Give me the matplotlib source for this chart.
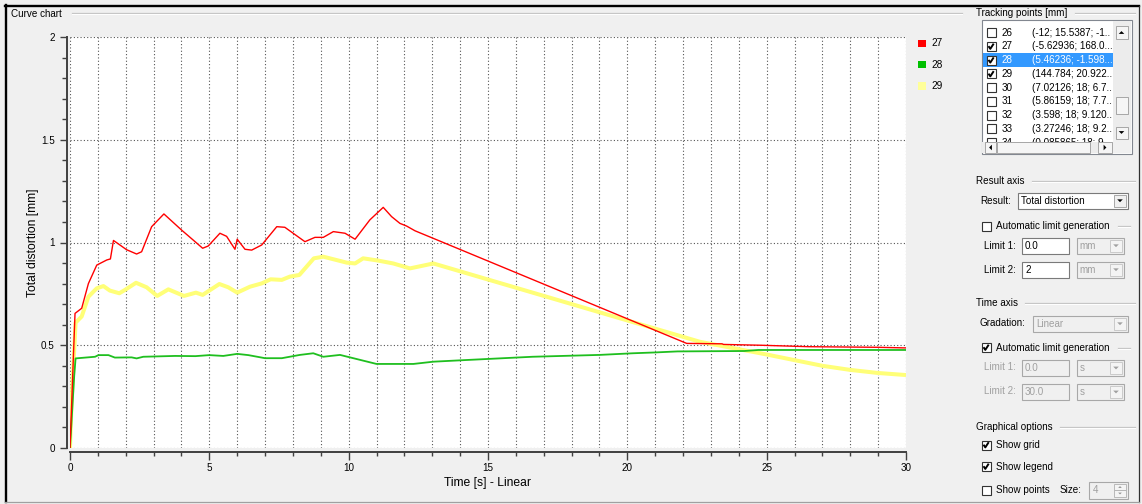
import matplotlib
matplotlib.use("Agg")
from matplotlib import pyplot as plt
from matplotlib.patches import Rectangle, Polygon
from matplotlib.ticker import MultipleLocator, FuncFormatter

plt.rcParams['font.family'] = ['Liberation Sans', 'DejaVu Sans']

W, H = 1142, 504

# --- curve data (time [s], total distortion [mm]) ---
t_27 = [0, 0.18, 0.42, 0.66, 0.96, 1.32, 1.45, 1.56, 2.03, 2.39, 2.57, 2.93, 3.37, 4.0,
        4.42, 4.76, 4.96, 5.38, 5.62, 5.92, 6.0, 6.28, 6.52, 6.88, 7.42, 7.71, 8.43,
        8.79, 9.09, 9.45, 9.87, 10.23, 10.76, 11.24, 11.54, 11.84, 12.08, 12.38, 13.04,
        22.13, 23.4, 23.45, 24.8, 26.5, 29.0, 30.0]
d_27 = [0, 0.655, 0.68, 0.80, 0.89, 0.915, 0.92, 1.01, 0.965, 0.944, 0.955, 1.077, 1.139, 1.061,
        1.012, 0.972, 0.983, 1.045, 1.03, 0.967, 1.016, 0.967, 0.963, 0.988, 1.077, 1.074, 1.004,
        1.025, 1.025, 1.053, 1.045, 1.016, 1.11, 1.171, 1.126, 1.093, 1.08, 1.057, 1.02,
        0.509, 0.507, 0.504, 0.50, 0.493, 0.49, 0.487]

t_28 = [0, 0.15, 0.2, 0.9, 1.02, 1.38, 1.61, 2.21, 2.39, 2.63, 3.77, 4.5, 5.0, 5.5, 6.0,
        6.4, 7.0, 7.6, 8.25, 8.73, 9.09, 9.69, 11.0, 12.32, 13.04, 14.2, 16.6, 19.0,
        20.2, 21.0, 21.8, 24.2, 24.7, 30.0]
d_28 = [0, 0.35, 0.436, 0.444, 0.452, 0.452, 0.44, 0.441, 0.436, 0.444, 0.448, 0.447, 0.452,
        0.448, 0.458, 0.452, 0.437, 0.437, 0.453, 0.461, 0.444, 0.453, 0.409, 0.409, 0.42,
        0.428, 0.444, 0.453, 0.461, 0.465, 0.47, 0.472, 0.477, 0.477]

t_29 = [0, 0.06, 0.2, 0.42, 0.66, 0.96, 1.2, 1.43, 1.77, 1.97, 2.37, 2.75, 3.13, 3.53, 4.09,
        4.52, 4.76, 5.36, 5.68, 6.0, 6.46, 6.88, 7.2, 7.6, 7.89, 8.23, 8.75, 9.09, 9.93,
        10.23, 10.52, 11.06, 11.6, 12.2, 13.04, 22.6, 25.0, 27.0, 28.0, 29.0, 30.0]
d_29 = [0, 0.23, 0.61, 0.64, 0.736, 0.777, 0.788, 0.766, 0.753, 0.769, 0.804, 0.782, 0.74,
        0.772, 0.74, 0.756, 0.745, 0.798, 0.782, 0.756, 0.785, 0.801, 0.821, 0.818, 0.834,
        0.842, 0.923, 0.931, 0.902, 0.898, 0.923, 0.912, 0.898, 0.874, 0.898, 0.517, 0.455,
        0.40, 0.38, 0.365, 0.355]

series_names = ['27', '28', '29']
line_colors = ['#ff0000', '#1fbf1f', '#ffff78']
legend_colors = ['#ff0000', '#00c000', '#ffff99']
line_widths = [1.0, 1.3, 2.9]

# --- tracking point list ---
track_ids = ['26', '27', '28', '29', '30', '31', '32', '33', '34']
track_text = ['(-12; 15.5387; -1..', '(-5.62936; 168.0...', '(5.46236; -1.598...',
              '(144.784; 20.922...', '(7.02126; 18; 6.7..', '(5.86159; 18; 7.7..',
              '(3.598; 18; 9.120..', '(3.27246; 18; 9.2..', '(0.085865; 18; 9...']
track_checked = [False, True, True, True, False, False, False, False, False]
track_selected = '28'

fig = plt.figure(figsize=(W / 100, H / 100), dpi=100, facecolor='#f0f0f0')

# overlay in pixel coordinates for the dialog parts
ui = fig.add_axes([0, 0, 1, 1])
ui.set_xlim(0, W)
ui.set_ylim(H, 0)
ui.axis('off')
ui.patch.set_alpha(0)
ui.set_zorder(1)

FS = 7.1


def label(x, y, s, color='black', size=FS, ha='left', z=5):
    ui.text(x, y, s, color=color, fontsize=size, ha=ha, va='center', zorder=z)


def box(x0, y0, x1, y1, fc='white', ec='#7a7a7a', lw=0.8, z=3):
    ui.add_patch(Rectangle((x0, y0), x1 - x0, y1 - y0, fc=fc, ec=ec, lw=lw, zorder=z))


def hline(x0, x1, y, color='#c6c6c6'):
    ui.plot([x0, x1], [y, y], color=color, lw=0.9, zorder=2)
    ui.plot([x0, x1], [y + 1, y + 1], color='white', lw=0.7, zorder=2)


def checkbox(x, y, checked, z=6):
    box(x, y - 4.5, x + 9, y + 4.5, fc='white', ec='#333333', lw=0.8, z=z)
    if checked:
        ui.plot([x + 2, x + 3.8, x + 7.2], [y - 0.3, y + 2.4, y - 2.8],
                color='black', lw=1.4, zorder=z + 1, solid_capstyle='butt')


def tri(cx, cy, down=True, color='black', s=3.0, z=7):
    if down:
        pts = [(cx - s, cy - s / 2), (cx + s, cy - s / 2), (cx, cy + s / 2)]
    else:
        pts = [(cx - s, cy + s / 2), (cx + s, cy + s / 2), (cx, cy - s / 2)]
    ui.add_patch(Polygon(pts, closed=True, fc=color, ec='none', zorder=z))


def tri_h(cx, cy, left=True, color='black', s=3.0, z=7):
    if left:
        pts = [(cx + s / 2, cy - s), (cx + s / 2, cy + s), (cx - s / 2, cy)]
    else:
        pts = [(cx - s / 2, cy - s), (cx - s / 2, cy + s), (cx + s / 2, cy)]
    ui.add_patch(Polygon(pts, closed=True, fc=color, ec='none', zorder=z))


def combo(x0, y0, x1, y1, text, enabled=True):
    if enabled:
        box(x0, y0, x1, y1, fc='white', ec='#7a7a7a')
        box(x1 - 14, y0 + 2, x1 - 2, y1 - 2, fc='#f0f0f0', ec='#9a9a9a', lw=0.6, z=4)
        tri(x1 - 8, (y0 + y1) / 2, color='black', s=2.8)
        label(x0 + 3, (y0 + y1) / 2, text)
    else:
        box(x0, y0, x1, y1, fc='#f0f0f0', ec='#a8a8a8')
        box(x1 - 14, y0 + 2, x1 - 2, y1 - 2, fc='#f4f4f4', ec='#c4c4c4', lw=0.6, z=4)
        tri(x1 - 8, (y0 + y1) / 2, color='#a0a0a0', s=2.8)
        label(x0 + 3, (y0 + y1) / 2, text, color='#a0a0a0')


# outer frame
ui.plot([5.5, 5.5], [5, 502], color='black', lw=1.7, zorder=8)
ui.plot([5, 1139], [6, 6], color='black', lw=1.7, zorder=8)
ui.plot([1139, 1139], [6, 502], color='#303030', lw=0.9, zorder=8)
ui.plot([5, 1139], [501.5, 501.5], color='#a0a0a0', lw=0.9, zorder=8)

# curve chart group
label(11, 14, 'Curve chart')
hline(72, 962, 13)

# legend
for i, (name, col) in enumerate(zip(series_names, legend_colors)):
    yc = 43.2 + i * 21.3
    ui.add_patch(Rectangle((918.3, yc - 3.7), 7.4, 7.4, fc=col, ec='none', zorder=5))
    label(931.5, yc, name, size=7.3)

# tracking points group
label(976.5, 13.5, 'Tracking points [mm]')
hline(1075, 1135, 13)
box(981.5, 20, 1131.5, 153.5, fc='white', ec='#828790', lw=0.8, z=3)
for i, (tid, txt, chk) in enumerate(zip(track_ids, track_text, track_checked)):
    yc = 32.7 + i * 13.75
    col = 'black'
    if tid == track_selected:
        ui.add_patch(Rectangle((983, yc - 7), 130, 14, fc='#3399ff', ec='none', zorder=4))
        col = 'white'
    checkbox(986.5, yc, chk)
    label(1001.5, yc, tid, color=col)
    label(1031.5, yc, txt, color=col)
# vertical scrollbar
box(1113, 21, 1131, 141.5, fc='#ececec', ec='none', z=8)
box(1115.5, 26, 1127.5, 39, fc='#f5f5f5', ec='#9a9a9a', lw=0.6, z=9)
tri(1121.5, 32.5, down=False, s=2.8, z=10)
box(1115.5, 96.5, 1127.5, 113.5, fc='#f5f5f5', ec='#9a9a9a', lw=0.6, z=9)
box(1115.5, 127, 1127.5, 138.5, fc='#f5f5f5', ec='#9a9a9a', lw=0.6, z=9)
tri(1121.5, 132.5, down=True, s=2.8, z=10)
# horizontal scrollbar
box(982, 141.5, 1131, 153, fc='#ececec', ec='none', z=8)
box(984.5, 142, 996, 153, fc='#f5f5f5', ec='#9a9a9a', lw=0.6, z=9)
tri_h(990.5, 147.5, left=True, s=2.8, z=10)
box(997, 142, 1090, 153, fc='#f5f5f5', ec='#9a9a9a', lw=0.6, z=9)
box(1098, 142, 1112, 153, fc='#f5f5f5', ec='#9a9a9a', lw=0.6, z=9)
tri_h(1105, 147.5, left=False, s=2.8, z=10)
box(1113, 139, 1131, 153, fc='#f0f0f0', ec='none', z=8)

# result axis group
label(976, 181, 'Result axis')
hline(1032, 1135, 181)
label(980, 201, 'Result:')
combo(1018, 193, 1128, 208.5, 'Total distortion')
checkbox(981.5, 226, False)
label(996, 226, 'Automatic limit generation')
hline(1118, 1130, 226)
label(984.5, 246, 'Limit 1:')
box(1022, 238, 1069, 253.5)
label(1025, 246, '0.0')
combo(1076.5, 238, 1124, 253.5, 'mm', enabled=False)
label(984.5, 270, 'Limit 2:')
box(1022, 262, 1069, 277.5)
label(1025, 270, '2')
combo(1076.5, 262, 1124, 277.5, 'mm', enabled=False)

# time axis group
label(976, 303.5, 'Time axis')
hline(1025, 1135, 303)
label(980, 323.5, 'Gradation:')
combo(1033, 316, 1128, 331.5, 'Linear', enabled=False)
checkbox(981.5, 347.5, True)
label(996, 348, 'Automatic limit generation')
hline(1118, 1130, 348)
label(984.5, 367.5, 'Limit 1:', color='#a0a0a0')
box(1022, 360, 1069, 376, fc='#f0f0f0', ec='#a8a8a8')
label(1025, 368, '0.0', color='#a0a0a0')
combo(1076.5, 360, 1124, 376, 's', enabled=False)
label(984.5, 391.5, 'Limit 2:', color='#a0a0a0')
box(1022, 384, 1069, 400, fc='#f0f0f0', ec='#a8a8a8')
label(1025, 392, '30.0', color='#a0a0a0')
combo(1076.5, 384, 1124, 400, 's', enabled=False)

# graphical options group
label(976, 426.5, 'Graphical options')
hline(1060, 1135, 426.5)
checkbox(981.5, 445, True)
label(996, 445, 'Show grid')
checkbox(981.5, 466.5, True)
label(996, 466.5, 'Show legend')
checkbox(981.5, 490, False)
label(996, 490, 'Show points')
label(1060, 490, 'Size:')
box(1089, 482, 1128, 498.5, fc='#f0f0f0', ec='#a8a8a8')
label(1093, 490, '4', color='#a0a0a0')
box(1114, 484, 1126, 490, fc='#f4f4f4', ec='#b0b0b0', lw=0.6, z=4)
box(1114, 490, 1126, 496.5, fc='#f4f4f4', ec='#b0b0b0', lw=0.6, z=4)
tri(1120, 487, down=False, color='#909090', s=1.8)
tri(1120, 493.5, down=True, color='#909090', s=1.8)

# --- the chart itself ---
ax = fig.add_axes([70 / W, 1 - 448 / H, (906 - 70) / W, (448 - 37) / H])
ax.set_zorder(2)
ax.set_facecolor('white')

order = [2, 1, 0]
curves = [(t_27, d_27), (t_28, d_28), (t_29, d_29)]
for i in order:
    ax.plot(curves[i][0], curves[i][1], color=line_colors[i], lw=line_widths[i],
            solid_joinstyle='round', solid_capstyle='butt', zorder=3 + (2 - i))

ax.set_xlim(0, 30)
ax.set_ylim(0, 2)
ax.xaxis.set_major_locator(MultipleLocator(5))
ax.xaxis.set_minor_locator(MultipleLocator(1))
ax.yaxis.set_major_locator(MultipleLocator(0.5))
ax.yaxis.set_minor_locator(MultipleLocator(0.1))
ax.yaxis.set_major_formatter(FuncFormatter(lambda v, p: '%g' % v))

ax.grid(axis='x', which='both', color='#555555', linestyle=(0, (1, 2)), lw=0.8)
ax.grid(axis='y', which='major', color='#555555', linestyle=(0, (1, 2)), lw=0.8)
for gl in ax.get_xgridlines() + ax.get_ygridlines():
    gl.set_clip_on(False)
ax.set_axisbelow(True)

for s in ['top', 'right']:
    ax.spines[s].set_visible(False)
ax.spines['left'].set_position(('outward', 2.5))
ax.spines['bottom'].set_position(('outward', 3))
for s in ['left', 'bottom']:
    ax.spines[s].set_color('#404040')
    ax.spines[s].set_linewidth(1.4)

ax.tick_params(axis='y', which='major', direction='out', length=5, width=1, color='#404040',
               pad=3.5, labelsize=7.1)
ax.tick_params(axis='y', which='minor', direction='out', length=3.5, width=1, color='#404040')
ax.tick_params(axis='x', which='major', direction='out', length=5.8, width=1, color='#404040',
               pad=2, labelsize=7.1)
ax.tick_params(axis='x', which='minor', direction='out', length=2.9, width=1, color='#404040')

ax.set_xlabel('Time [s] - Linear', fontsize=8.7, labelpad=3)
ax.set_ylabel('Total distortion [mm]', fontsize=8.7, labelpad=1.5)

fig.savefig('out.png', dpi=100, facecolor=fig.get_facecolor())
